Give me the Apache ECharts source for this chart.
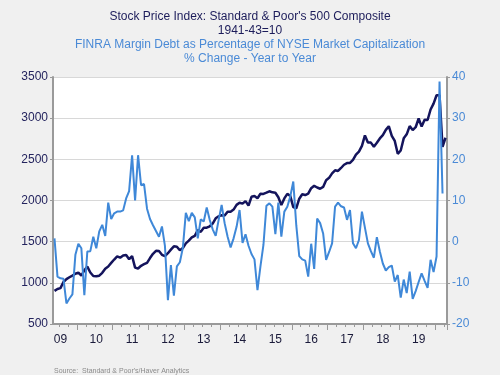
<!DOCTYPE html>
<html>
<head>
<meta charset="utf-8">
<script src="https://cdn.jsdelivr.net/npm/echarts@6/dist/echarts.min.js"></script>
<style>
html,body{margin:0;padding:0;background:#f0f0f0;}
#c{width:500px;height:375px;}
</style>
</head>
<body>
<div id="c"></div>
<script>
// Monthly categories: May 2009 .. Apr 2020
const startYear = 2009, startMonth = 5, monthCount = 132;
const months = [];
for (let k = 0; k < monthCount; k++) {
  const m0 = startMonth - 1 + k;
  const y = startYear + Math.floor(m0 / 12);
  const m = (m0 % 12) + 1;
  months.push(y + '-' + (m < 10 ? '0' + m : '' + m));
}

// S&P 500 index (left axis)
const sp500 = [
  902, 926, 936, 1010, 1045, 1068, 1088, 1110,
  1124, 1089, 1152, 1197, 1125, 1083, 1080, 1087, 1122, 1172, 1199, 1242,
  1283, 1321, 1305, 1332, 1338, 1287, 1325, 1185, 1174, 1207, 1226, 1243,
  1301, 1353, 1389, 1386, 1341, 1324, 1360, 1403, 1443, 1438, 1395, 1422,
  1480, 1512, 1551, 1571, 1640, 1619, 1669, 1670, 1687, 1720, 1784, 1808,
  1822, 1817, 1864, 1864, 1890, 1947, 1973, 1962, 1993, 1937, 2045, 2054,
  2028, 2082, 2080, 2095, 2112, 2099, 2094, 2040, 1944, 2025, 2081, 2054,
  1919, 1904, 2022, 2076, 2066, 2084, 2149, 2178, 2158, 2143, 2165, 2247,
  2275, 2330, 2367, 2359, 2395, 2434, 2454, 2456, 2493, 2557, 2594, 2664,
  2790, 2705, 2703, 2654, 2702, 2754, 2794, 2858, 2902, 2786, 2723, 2567,
  2607, 2755, 2804, 2904, 2855, 2890, 2996, 2898, 2982, 2978, 3105, 3177,
  3278, 3277, 2652, 2762
];

// FINRA margin debt as % of NYSE market cap, % change y/y (right axis)
const marginDebt = [
  0.8, -8.5, -8.9, -9.0, -15.0, -13.8, -12.8, -3.2, -0.5, -1.6,
  -13.0, -2.4, -2.3, 1.2, -1.6, 2.5, 4.1, 1.4, 9.5, 5.5,
  6.9, 7.3, 7.3, 7.6, 10.5, 12.3, 21.0, 10.0, 21.0, 13.7,
  14.0, 8.0, 5.5, 4.0, 2.6, 1.2, 3.7, -1.0, -14.2, -5.7,
  -13.1, -6.0, -5.0, -1.5, 7.0, 5.0, 7.0, 5.9, 0.8, 5.4,
  4.9, 8.3, 5.3, 3.0, 1.4, 5.3, 8.9, 4.5, 1.2, -1.4,
  0.8, 3.6, 7.7, -0.3, 1.8, -1.0, -3.0, -4.3, -11.8, -6.0,
  -0.8, 8.7, 9.3, 8.5, 1.8, 9.5, 1.2, 7.3, 8.5, 11.0,
  14.6, 4.0, -3.5, -4.3, -4.6, -8.5, -0.5, -6.6, 5.6, 4.5,
  2.0, -4.4, -2.5, -0.4, 8.5, 9.5, 8.6, 8.3, 5.3, 7.7,
  -0.4, -1.6, 0.4, 7.3, 3.4, -0.4, -2.3, -3.9, 1.1, -2.4,
  -5.3, -7.0, -6.2, -5.8, -9.7, -8.1, -13.6, -9.2, -12.5, -7.3,
  -13.9, -12.0, -9.8, -7.7, -9.5, -11.2, -4.4, -7.4, -3.6, 38.9,
  11.7
];

const leftTicks = {min: 500, max: 3500, step: 500};
const rightTicks = {min: -20, max: 40, step: 10};

const navy = '#14145c';
const lightBlue = '#3f88d8';
const fontFam = 'Liberation Sans, Arial, sans-serif';

const monthOf = v => parseInt(v.slice(5, 7), 10);

const chart = echarts.init(document.getElementById('c'), null, {renderer: 'canvas'});
chart.setOption({
  backgroundColor: '#f0f0f0',
  animation: false,
  grid: {left: 53, right: 53, top: 77, bottom: 51, show: true, backgroundColor: '#ffffff', borderWidth: 0},
  graphic: [
    {type: 'text', left: 'center', top: 11, style: {text: "Stock Price Index: Standard & Poor's 500 Composite", fill: '#1c1c5a', font: '12px ' + fontFam}},
    {type: 'text', left: 'center', top: 25, style: {text: '1941-43=10', fill: '#1c1c5a', font: '12px ' + fontFam}},
    {type: 'text', left: 'center', top: 39, style: {text: 'FINRA Margin Debt as Percentage of NYSE Market Capitalization', fill: '#4a8ad6', font: '12px ' + fontFam}},
    {type: 'text', left: 'center', top: 53, style: {text: '% Change - Year to Year', fill: '#4a8ad6', font: '12px ' + fontFam}},
    {type: 'text', left: 54, top: 368, style: {text: "Source:  Standard & Poor's/Haver Analytics", fill: '#8a8a8a', font: '7px ' + fontFam}}
  ],
  xAxis: [
    {
      type: 'category', data: months, boundaryGap: true,
      axisLine: {show: true, onZero: false, lineStyle: {color: '#9a9a9a', width: 2}},
      axisTick: {show: true, length: 6, interval: (i, v) => monthOf(v) === 1, lineStyle: {color: '#9a9a9a', width: 1}},
      axisLabel: {interval: (i, v) => monthOf(v) === 7, formatter: v => v.slice(2, 4), color: '#1a1a3a', fontSize: 12, fontFamily: fontFam, margin: 10},
      splitLine: {show: false}
    },
    {
      type: 'category', data: months, boundaryGap: true, position: 'bottom',
      axisLine: {show: false, onZero: false},
      axisTick: {show: true, length: 3, interval: (i, v) => monthOf(v) % 3 === 1, lineStyle: {color: '#9a9a9a', width: 1}},
      axisLabel: {show: false},
      splitLine: {show: false}
    }
  ],
  yAxis: [
    {
      type: 'value', min: leftTicks.min, max: leftTicks.max, interval: leftTicks.step, position: 'left',
      axisLine: {show: true, onZero: false, lineStyle: {color: '#9a9a9a', width: 2}},
      axisTick: {show: true, length: 3, lineStyle: {color: '#9a9a9a'}},
      axisLabel: {color: '#24245e', fontSize: 12, fontFamily: fontFam, margin: 5, formatter: v => String(v)},
      splitLine: {show: true, lineStyle: {color: '#d8d8d8', width: 1}}
    },
    {
      type: 'value', min: rightTicks.min, max: rightTicks.max, interval: rightTicks.step, position: 'right',
      axisLine: {show: true, onZero: false, lineStyle: {color: '#9a9a9a', width: 2}},
      axisTick: {show: true, length: 3, lineStyle: {color: '#9a9a9a'}},
      axisLabel: {color: '#4a8ad6', fontSize: 12, fontFamily: fontFam, margin: 5, formatter: v => String(v)},
      splitLine: {show: false}
    }
  ],
  series: [
    {
      name: 'S&P 500', type: 'line', xAxisIndex: 0, yAxisIndex: 0, data: sp500,
      showSymbol: false, symbol: 'none',
      lineStyle: {color: navy, width: 2.5}, z: 3
    },
    {
      name: 'Margin Debt', type: 'line', xAxisIndex: 0, yAxisIndex: 1, data: marginDebt,
      showSymbol: false, symbol: 'none',
      lineStyle: {color: lightBlue, width: 2}, z: 4
    }
  ]
});
</script>
</body>
</html>
